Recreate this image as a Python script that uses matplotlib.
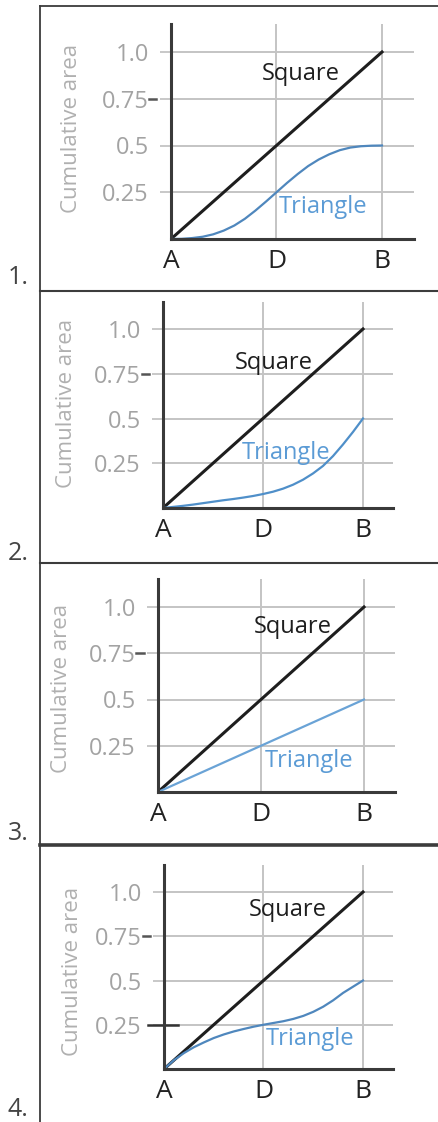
"""
four small panels: cumulative area of square vs triangle along A -> D -> B
each panel shows a different shape for the triangle curve
"""

import matplotlib.pyplot as plt
from matplotlib.lines import Line2D

plt.rcParams['font.family'] = ['Open Sans', 'DejaVu Sans']

# data
x_line = [0.0, 1.0]
square = [0.0, 1.0]
x_pos = [0.0, 0.05, 0.1, 0.15, 0.2, 0.25, 0.3, 0.35, 0.4, 0.45, 0.5,
         0.55, 0.6, 0.65, 0.7, 0.75, 0.8, 0.85, 0.9, 0.95, 1.0]
tri_1 = [0.0, 0.001, 0.005, 0.012, 0.025, 0.045, 0.072, 0.108, 0.152, 0.2, 0.25,
         0.3, 0.347, 0.39, 0.425, 0.453, 0.475, 0.489, 0.496, 0.499, 0.5]
tri_2 = [0.0, 0.006, 0.012, 0.019, 0.027, 0.035, 0.043, 0.05, 0.058, 0.067, 0.078,
         0.091, 0.108, 0.13, 0.158, 0.193, 0.235, 0.29, 0.355, 0.425, 0.5]
tri_3 = [0.0, 0.5]
tri_4 = [0.0, 0.05, 0.09, 0.123, 0.15, 0.175, 0.195, 0.212, 0.226, 0.239, 0.25,
         0.26, 0.27, 0.283, 0.3, 0.323, 0.352, 0.388, 0.43, 0.465, 0.5]
triangles = [(x_pos, tri_1), (x_pos, tri_2), (x_line, tri_3), (x_pos, tri_4)]

y_ticks = [0.25, 0.5, 0.75, 1.0]
y_labels = ["0.25", "0.5", "0.75", "1.0"]
x_ticks = [0.0, 0.5, 1.0]
x_labels = ["A", "D", "B"]
panel_names = ["1.", "2.", "3.", "4."]

W, H = 439, 1122
fig = plt.figure(figsize=(W / 100, H / 100), dpi=100)

# axes placement in pixels: left, x-axis row, px per unit x, px per unit y
axes_px = [
    (171, 239, 211, 187),
    (163, 508, 200, 179),
    (158, 792, 206, 185),
    (164, 1069, 199, 177),
]
# label positions (data coords)
square_xy = [(0.80, 0.88), (0.75, 0.81), (0.845, 0.89), (0.82, 0.90)]
tri_xy = [(0.51, 0.17), (0.395, 0.31), (0.52, 0.17), (0.51, 0.17)]
ylab_px = [(72, 128), (67, 403), (62, 688), (73, 971)]
name_px = [(18, 277), (18, 553), (18, 834), (18, 1110)]
tri_colors = ["#4f87bd", "#4f8fc9", "#6aa3d6", "#4f87bd"]

xmax, ymax = 1.15, 1.15
grid_c = "#c4c4c4"
tick_c = "#a3a3a3"

for i, (left, base, sx, sy) in enumerate(axes_px):
    w = sx * xmax
    h = sy * ymax
    ax = fig.add_axes([left / W, 1 - base / H, w / W, h / H])
    ax.set_xlim(0, xmax)
    ax.set_ylim(0, ymax)

    for s in ["top", "right"]:
        ax.spines[s].set_visible(False)
    for s in ["left", "bottom"]:
        ax.spines[s].set_color("#3a3a3a")
        ax.spines[s].set_linewidth(2.2)
        ax.spines[s].set_zorder(4)

    ax.set_yticks(y_ticks)
    ax.set_yticklabels(y_labels)
    ax.set_xticks(x_ticks)
    ax.set_xticklabels(x_labels)
    ax.tick_params(axis="y", length=8, width=1.3, color=grid_c, pad=8,
                   labelsize=17, labelcolor=tick_c)
    ax.tick_params(axis="x", length=0, pad=7, labelsize=19, labelcolor="#222222")

    ax.grid(True, color=grid_c, lw=1.4)
    ax.set_axisbelow(True)

    # small dark dash next to 0.75
    ax.axhline(0.75, xmin=-0.092, xmax=-0.06, clip_on=False, color="#555555", lw=1.8)
    if i == 3:
        ax.axhline(0.25, xmin=-0.07, xmax=0.06, clip_on=False, color="#333333", lw=1.8)

    ax.plot(x_line, square, color="#1e1e1e", lw=2.2, zorder=3)
    tx, ty = triangles[i]
    ax.plot(tx, ty, color=tri_colors[i], lw=1.6, zorder=3)

    ax.text(square_xy[i][0], square_xy[i][1], "Square", ha="right", va="center",
            fontsize=17, color="#1e1e1e")
    ax.text(tri_xy[i][0], tri_xy[i][1], "Triangle", ha="left", va="center",
            fontsize=17, color="#5b9bd5")

    fig.text(ylab_px[i][0] / W, 1 - ylab_px[i][1] / H, "Cumulative area",
             rotation=90, ha="center", va="center", fontsize=16, color="#b0b0b0")
    fig.text(name_px[i][0] / W, 1 - name_px[i][1] / H, panel_names[i],
             ha="center", va="center", fontsize=18, color="#444444")

# panel frames
frame_c = "#3c3c3c"
fig.add_artist(Line2D([40 / W, 40 / W], [1 - 6 / H, 0], color=frame_c, lw=1.3))
for yy, lw in [(6, 1.3), (291, 1.5), (563, 1.5), (845, 2.6)]:
    fig.add_artist(Line2D([40 / W, 1], [1 - yy / H, 1 - yy / H], color=frame_c, lw=lw))

fig.savefig("out.png", dpi=100)
